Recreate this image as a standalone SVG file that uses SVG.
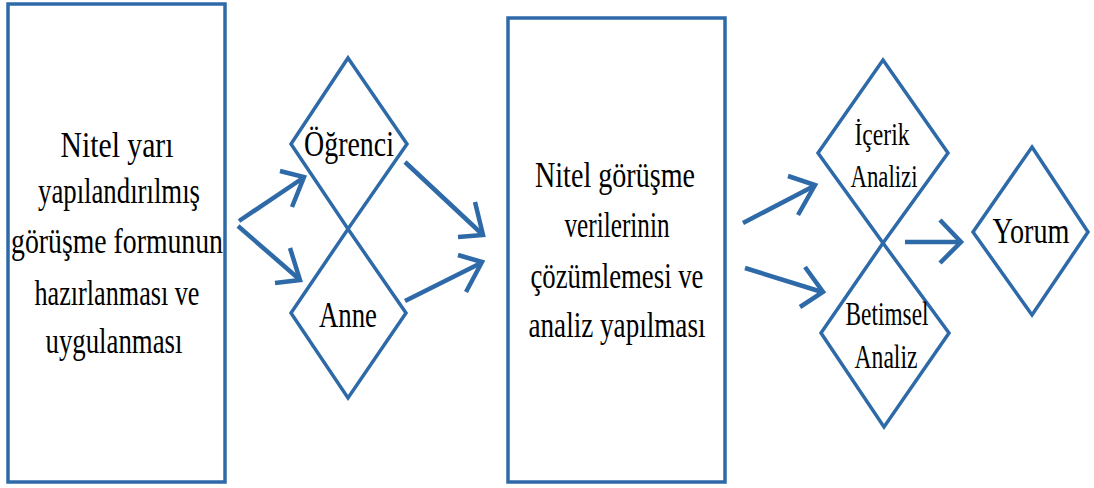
<svg xmlns="http://www.w3.org/2000/svg" width="1094" height="488" viewBox="0 0 1094 488">
<style>
.box{fill:none;stroke:#2E6AA8;stroke-width:3.5}
.dia{fill:none;stroke:#2E6AA8;stroke-width:3.5;stroke-linejoin:miter}
.con{fill:none;stroke:#2E6AA8;stroke-width:4.5;stroke-linejoin:miter;stroke-linecap:butt}
.t{font-family:"Liberation Serif","Times New Roman",serif;font-size:35px;fill:#000;text-anchor:middle}
</style>
<rect width="1094" height="488" fill="#ffffff"/>
<g id="node-hazirlama">
<rect class="box" x="8" y="4" width="217" height="478"/>
<text class="t" x="117" y="157" textLength="113" lengthAdjust="spacingAndGlyphs">Nitel yarı</text>
<text class="t" x="119" y="203" textLength="162" lengthAdjust="spacingAndGlyphs">yapılandırılmış</text>
<text class="t" x="117" y="253" textLength="212" lengthAdjust="spacingAndGlyphs">görüşme formunun</text>
<text class="t" x="117" y="305" textLength="165" lengthAdjust="spacingAndGlyphs">hazırlanması ve</text>
<text class="t" x="114" y="353" textLength="137" lengthAdjust="spacingAndGlyphs">uygulanması</text>
</g>
<g id="node-ogrenci">
<polygon class="dia" points="348,58 407,144 348,229 291,144"/>
<text class="t" x="349" y="156" textLength="90" lengthAdjust="spacingAndGlyphs">Öğrenci</text>
</g>
<g id="node-anne">
<polygon class="dia" points="348,229 406,313 348,398 291,313"/>
<text class="t" x="348" y="327" textLength="58" lengthAdjust="spacingAndGlyphs">Anne</text>
</g>
<g id="node-cozumleme">
<rect class="box" x="508" y="18" width="217" height="464"/>
<text class="t" x="615" y="187" textLength="160" lengthAdjust="spacingAndGlyphs" style="font-size:36px">Nitel görüşme</text>
<text class="t" x="617" y="237" textLength="105" lengthAdjust="spacingAndGlyphs" style="font-size:36px">verilerinin</text>
<text class="t" x="617" y="288" textLength="173" lengthAdjust="spacingAndGlyphs" style="font-size:36px">çözümlemesi ve</text>
<text class="t" x="617" y="337" textLength="177" lengthAdjust="spacingAndGlyphs" style="font-size:36px">analiz yapılması</text>
</g>
<g id="node-icerik">
<polygon class="dia" points="883,60 948,153 883,243 818,153"/>
<text class="t" x="882" y="145" textLength="55" lengthAdjust="spacingAndGlyphs" style="font-size:31px">İçerik</text>
<text class="t" x="884" y="187" textLength="67" lengthAdjust="spacingAndGlyphs" style="font-size:31px">Analizi</text>
</g>
<g id="node-betimsel">
<polygon class="dia" points="883,243 949,333 884,427 821,333"/>
<text class="t" x="887" y="325" textLength="83" lengthAdjust="spacingAndGlyphs" style="font-size:33px">Betimsel</text>
<text class="t" x="886" y="368" textLength="63" lengthAdjust="spacingAndGlyphs" style="font-size:33px">Analiz</text>
</g>
<g id="node-yorum">
<polygon class="dia" points="1032,147 1088,232 1032,315 973,232"/>
<text class="t" x="1031" y="243" textLength="77" lengthAdjust="spacingAndGlyphs" style="font-size:36px">Yorum</text>
</g>
<g id="connectors">
<line class="con" x1="239" y1="221" x2="303" y2="178"/>
<polyline class="con" points="280,171 304,177 292,207"/>
<line class="con" x1="238" y1="226" x2="299" y2="279"/>
<polyline class="con" points="275,283 300,280 290,248"/>
<line class="con" x1="405" y1="162" x2="482" y2="234"/>
<polyline class="con" points="458,237 483,235 475,202"/>
<line class="con" x1="405" y1="301" x2="481" y2="263"/>
<polyline class="con" points="458,255 482,262 466,292"/>
<line class="con" x1="743" y1="223" x2="814" y2="186"/>
<polyline class="con" points="788,176 815,185 798,215"/>
<line class="con" x1="745" y1="268" x2="822" y2="292"/>
<polyline class="con" points="805,267 823,292 800,307"/>
<line class="con" x1="905" y1="242" x2="960" y2="242"/>
<polyline class="con" points="940,220 961,242 940,263"/>
</g>
</svg>
